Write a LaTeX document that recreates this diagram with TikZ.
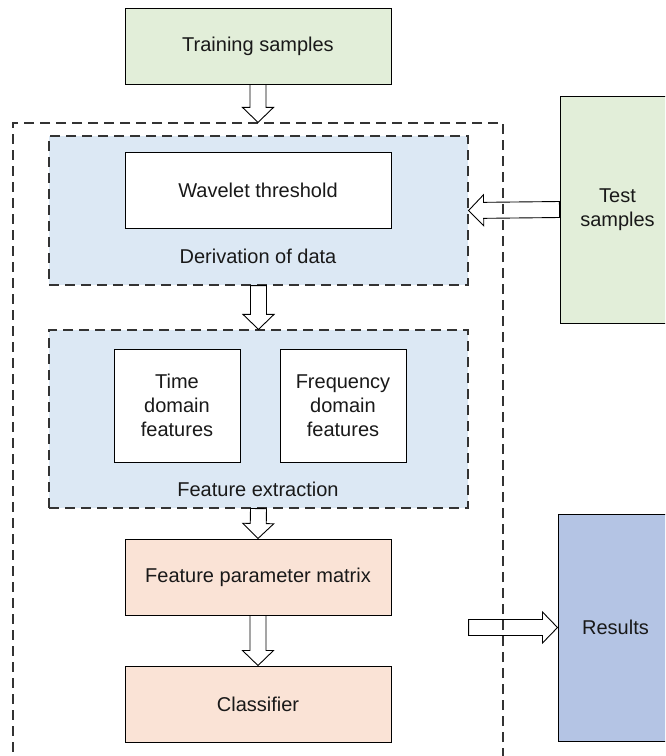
\documentclass[tikz,border=0pt]{standalone}
\usepackage{fontspec}
\setmainfont{Liberation Sans}
\usetikzlibrary{calc}

\definecolor{sampleGreen}{HTML}{E2EED9}
\definecolor{stageBlue}{HTML}{DCE8F4}
\definecolor{matrixPeach}{HTML}{FAE3D6}
\definecolor{resultBlue}{HTML}{B4C4E4}

\tikzset{
    box/.style={draw, line width=1pt, align=center, inner sep=0pt, text=black!90},
    stagebox/.style={draw=black!80, dash pattern=on 10pt off 6pt, line width=1.2pt, fill=stageBlue},
    caption/.style={inner sep=0pt, text=black!90}
}

% hollow block arrow from #1 to #2
\newcommand{\blockarrow}[2]{%
    \draw[line width=0.9pt] let \p1=(#1), \p2=(#2),
        \n1={atan2(\y2-\y1,\x2-\x1)}, \n2={veclen(\x2-\x1,\y2-\y1)} in
        [shift={(\p1)}, rotate=\n1] (0,-8) -- ({\n2-15},-8) -- ({\n2-15},-15.5) -- (\n2,0)
        -- ({\n2-15},15.5) -- ({\n2-15},8) -- (0,8) -- cycle;}

\begin{document}
\begin{tikzpicture}[x=1pt, y=1pt, font=\fontsize{20}{24}\selectfont]
    \useasboundingbox (0,0) rectangle (665,-756);
    \clip (0,0) rectangle (665,-756);

    % outer frame
    \node (outer) [draw=black!80, dash pattern=on 10pt off 6pt, line width=1.2pt,
        minimum width=490, minimum height=657] at (258,-451.5) {};

    \node (train) [box, fill=sampleGreen, minimum width=266, minimum height=76] at (258,-46) {Training samples};

    % derivation of data
    \node (deriv) [stagebox, minimum width=419, minimum height=149] at (258.5,-210.5) {};
    \node (wavelet) [box, fill=white, minimum width=266, minimum height=76] at (258,-190) {Wavelet threshold};
    \node (derivlbl) [caption] at (258,-256) {Derivation of data};

    % feature extraction
    \node (fext) [stagebox, minimum width=419, minimum height=178] at (258.5,-419) {};
    \node (time) [box, fill=white, minimum width=126, minimum height=113] at (177,-405.5) {Time\\domain\\features};
    \node (freq) [box, fill=white, minimum width=126, minimum height=113] at (343,-405.5) {Frequency\\domain\\features};
    \node (fextlbl) [caption] at (258,-489) {Feature extraction};

    \node (fpm) [box, fill=matrixPeach, minimum width=266, minimum height=76] at (258,-577) {Feature parameter matrix};
    \node (classifier) [box, fill=matrixPeach, minimum width=266, minimum height=76] at (258,-704) {Classifier};

    \node (test) [box, fill=sampleGreen, minimum width=115, minimum height=227] at (617.5,-209.5) {Test\\samples};
    \node (results) [box, fill=resultBlue, minimum width=115, minimum height=227] at (615.5,-627.5) {Results};

    % connectors
    \blockarrow{train.south}{outer.north}
    \blockarrow{deriv.south}{fext.north}
    \blockarrow{fext.south}{fpm.north}
    \blockarrow{fpm.south}{classifier.north}
    \blockarrow{test.west}{deriv.east}
    \blockarrow{fext.east |- results.west}{results.west}
\end{tikzpicture}
\end{document}
